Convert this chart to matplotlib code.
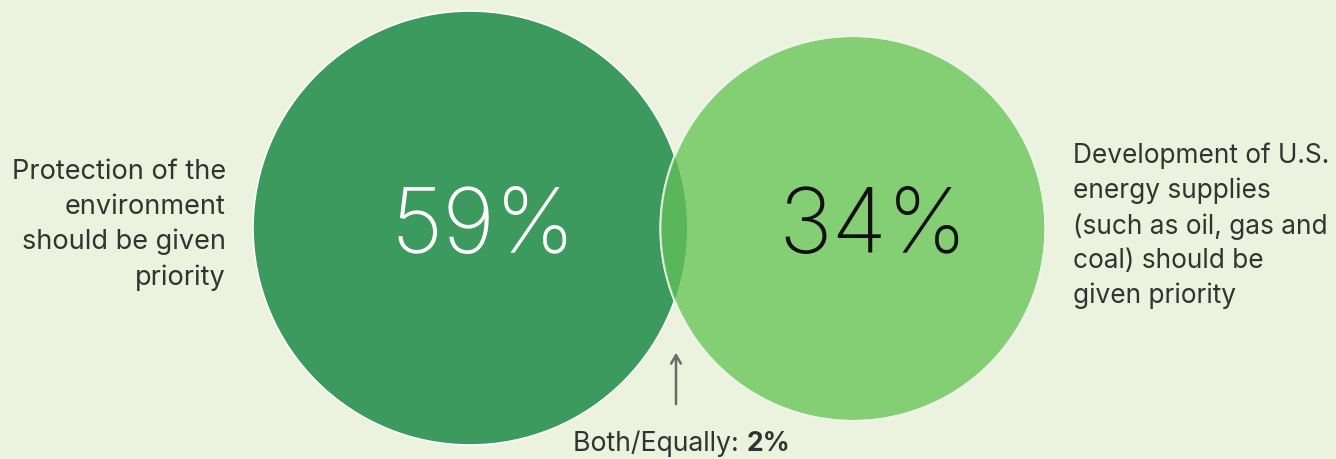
import matplotlib
matplotlib.use("Agg")
import matplotlib.pyplot as plt
from matplotlib.patches import Circle

# Data
categories = ["Protection of the\nenvironment\nshould be given\npriority",
              "Development of U.S.\nenergy supplies\n(such as oil, gas and\ncoal) should be\ngiven priority",
              "Both/Equally"]
values = [59, 34, 2]

BG = "#EBF3DE"
C_LEFT = "#3C9A5F"
C_RIGHT = "#84CE74"
C_LENS = "#5AB65A"

plt.rcParams['font.family'] = ['Inter', 'DejaVu Sans']

fig = plt.figure(figsize=(13.36, 4.59), dpi=100, facecolor=BG)
ax = fig.add_axes([0, 0, 1, 1])
ax.set_facecolor(BG)
ax.set_xlim(0, 1336)
ax.set_ylim(459, 0)
ax.set_aspect('equal')
ax.axis('off')

left = Circle((470, 228), 217, facecolor=C_LEFT, edgecolor='white', lw=1.2, zorder=1)
ax.add_patch(left)
right = Circle((853, 228.5), 192.5, facecolor=C_RIGHT, edgecolor='white', lw=1.5, zorder=2)
ax.add_patch(right)
lens = Circle((853, 228.5), 192.5, facecolor=C_LENS, edgecolor='none', zorder=3)
ax.add_patch(lens)
lens.set_clip_path(Circle((470, 228), 217, transform=ax.transData))
outline = Circle((853, 228.5), 192.5, facecolor='none', edgecolor='#E6F2E0', lw=1.5, zorder=4, alpha=0.8)
ax.add_patch(outline)

ax.text(483, 229, f"{values[0]}%", color='white', fontsize=65, fontweight='light',
        ha='center', va='center', zorder=5)
ax.text(873, 229, f"{values[1]}%", color='#111111', fontsize=65, fontweight='light',
        ha='center', va='center', zorder=5)

ax.text(226, 225, categories[0], color='#333333', fontsize=19.5, ha='right', va='center',
        linespacing=1.43, zorder=5)
ax.text(1073, 226, categories[1], color='#333333', fontsize=18.9, ha='left', va='center',
        linespacing=1.42, zorder=5)

ax.annotate('', xy=(676, 350), xytext=(676, 407),
            arrowprops=dict(arrowstyle='->,head_length=0.6,head_width=0.35', color='#6b6b6b', lw=1.8))

t1 = ax.text(573, 444, f"{categories[2]}: ", color='#333333', fontsize=19.2, ha='left', va='center')
fig.canvas.draw()
bb = t1.get_window_extent().transformed(ax.transData.inverted())
ax.text(bb.x1, 444, f"{values[2]}%", color='#333333', fontsize=19.2, fontweight='bold', ha='left', va='center')

fig.savefig("out.png", dpi=100, facecolor=BG)
